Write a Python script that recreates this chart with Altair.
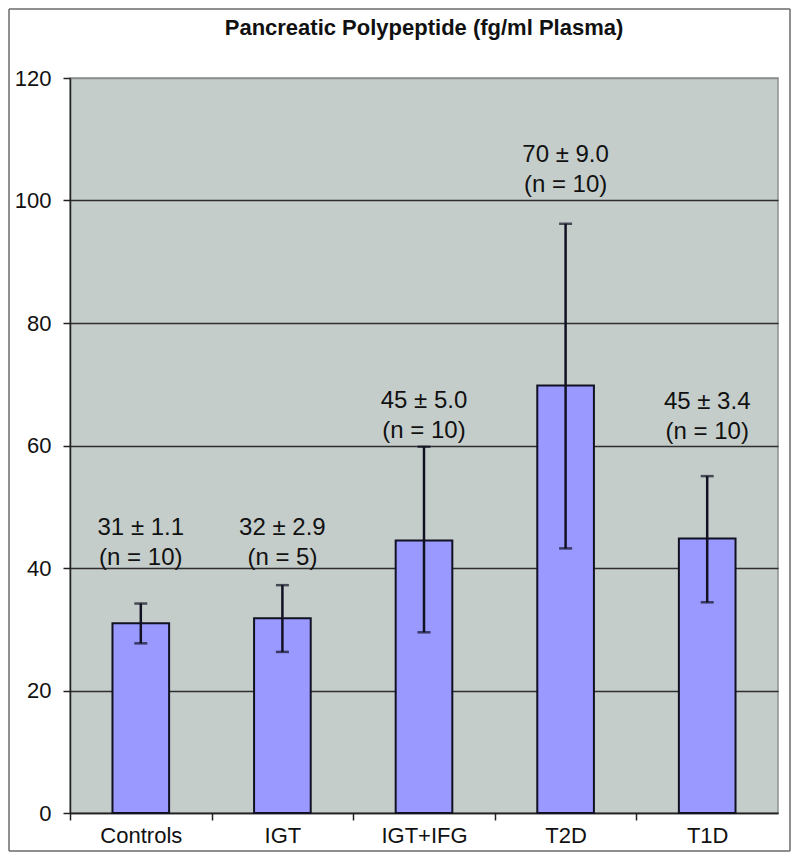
import altair as alt
import pandas as pd

groups = ["Controls", "IGT", "IGT+IFG", "T2D", "T1D"]
means = [31.0, 31.8, 44.5, 69.8, 44.8]
err_low = [27.7, 26.3, 29.5, 43.2, 34.4]
err_high = [34.2, 37.2, 59.8, 96.2, 55.0]
labels = ["31 ± 1.1\n(n = 10)", "32 ± 2.9\n(n = 5)", "45 ± 5.0\n (n = 10)",
          "70 ± 9.0\n(n = 10)", "45 ± 3.4\n (n = 10)"]
label_y = [46.5, 46.5, 67.3, 107.4, 67.1]
y_ticks = [0, 20, 40, 60, 80, 100, 120]
title_text = "Pancreatic Polypeptide (fg/ml Plasma)"

df = pd.DataFrame({"group": groups, "mean": means, "lo": err_low, "hi": err_high,
                   "label": labels, "ly": label_y})

FONT = "Liberation Sans"
W, H = 708, 735
PAD = {"left": 62, "top": 70, "right": 13, "bottom": 39}

xscale = alt.Scale(paddingInner=0.6, paddingOuter=0.3)
yscale = alt.Scale(domain=[0, 120], nice=False)

x_enc = alt.X("group:N", sort=groups, scale=xscale, title=None,
              axis=alt.Axis(labelAngle=0, labelFont=FONT, labelFontSize=22, labelColor="#111",
                            tickSize=7, tickColor="#222", tickWidth=1.5,
                            tickOffset=-70.8, labelOffset=70.8, labelPadding=5,
                            domainColor="#222", domainWidth=1.5))
y_enc = alt.Y("mean:Q", scale=yscale, title=None,
              axis=alt.Axis(values=y_ticks, labelFont=FONT, labelFontSize=22, labelColor="#111",
                            tickSize=7, tickColor="#222", tickWidth=1.5, labelPadding=12,
                            domainColor="#222", domainWidth=1.5,
                            grid=True, gridWidth=1.4,
                            gridColor={"condition": {"test": "datum.value === 120", "value": "#8c9190"},
                                       "value": "#2e2e2e"}))

base = alt.Chart(df)
first = base.transform_filter("datum.group === 'Controls'")

fl, ft = -PAD["left"] + 1, -PAD["top"] + 1
fr, fb = W + PAD["right"] - 1, H + PAD["bottom"] - 1
FR = dict(color="#6a6a6a", strokeWidth=1.5)
frame_left = first.mark_rule(**FR).encode(x=alt.value(fl), y=alt.value(ft), y2=alt.value(fb))
frame_right = first.mark_rule(**FR).encode(x=alt.value(fr), y=alt.value(ft), y2=alt.value(fb))
frame_top = first.mark_rule(**FR).encode(y=alt.value(ft), x=alt.value(fl), x2=alt.value(fr))
frame_bottom = first.mark_rule(**FR).encode(y=alt.value(fb), x=alt.value(fl), x2=alt.value(fr))

title = first.mark_text(font=FONT, fontSize=22, fontWeight="bold", color="#111",
                        align="center", baseline="middle").encode(
    x=alt.value(W / 2), y=alt.value(-50), text=alt.value(title_text))

bars = base.mark_bar(color="#9999ff", stroke="#111122", strokeWidth=2).encode(
    x=x_enc, y=y_enc)

rules = base.mark_rule(color="#111122", strokeWidth=2.5).encode(
    x=alt.X("group:N", sort=groups), y="lo:Q", y2="hi:Q")

caps_lo = base.mark_tick(color="#111122", thickness=2.5, size=13).encode(
    x=alt.X("group:N", sort=groups), y="lo:Q")
caps_hi = base.mark_tick(color="#111122", thickness=2.5, size=13).encode(
    x=alt.X("group:N", sort=groups), y="hi:Q")

text = base.mark_text(font=FONT, fontSize=24, color="#111", lineBreak="\n",
                      lineHeight=30, baseline="middle", align="center").encode(
    x=alt.X("group:N", sort=groups), y="ly:Q", text="label:N")

chart = alt.layer(frame_left, frame_right, frame_top, frame_bottom, title,
                  bars, rules, caps_lo, caps_hi, text).properties(
    width=W, height=H,
    autosize=alt.AutoSizeParams(type="none"),
    padding=PAD,
).configure(background="white").configure_view(fill="#c5cdcb", stroke="#8c9190", strokeWidth=1.5)

chart.save("out.html", embed_options={"renderer": "svg", "actions": False})
